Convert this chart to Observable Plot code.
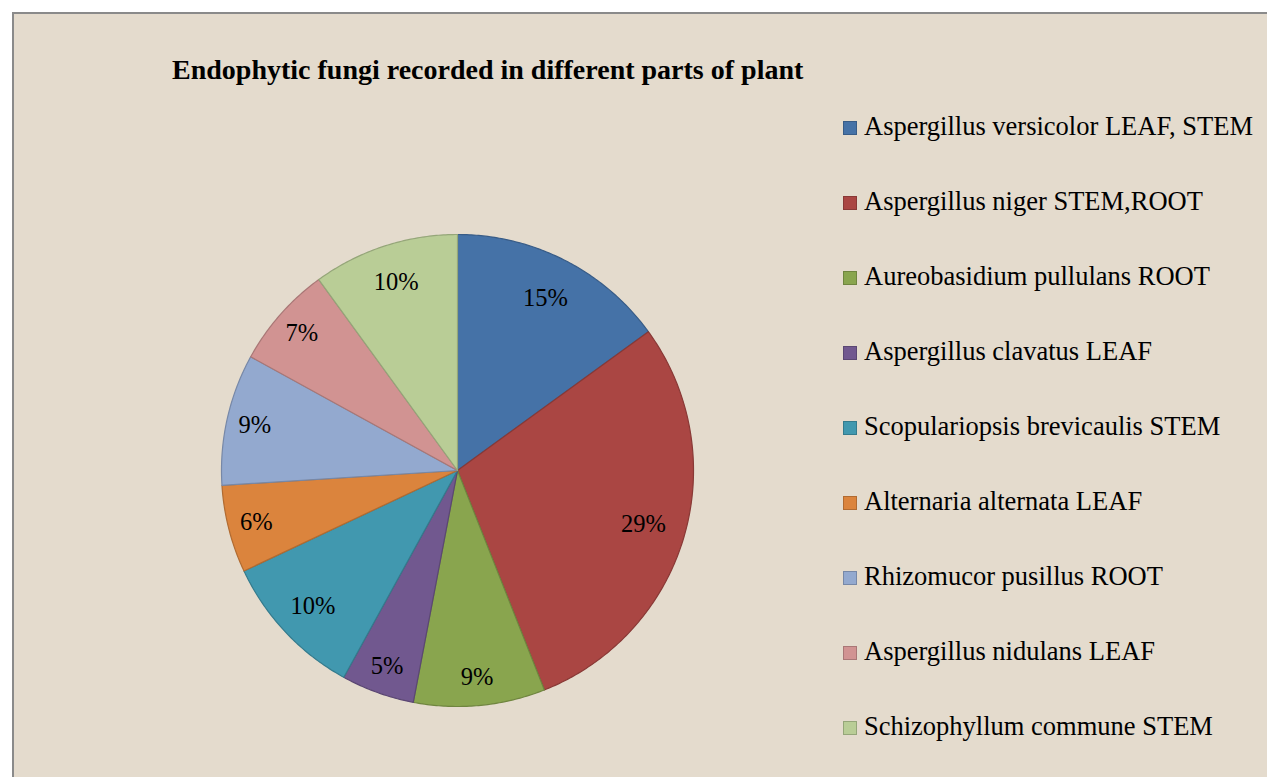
<!DOCTYPE html>
<html>
<head>
<meta charset="utf-8">
<script src="https://cdn.jsdelivr.net/npm/d3@7"></script>
<script src="https://cdn.jsdelivr.net/npm/@observablehq/plot@0.6"></script>
<style>
  html, body { margin: 0; padding: 0; background: #ffffff; overflow: hidden; }
  body { width: 1267px; height: 777px; position: relative; font-family: "Liberation Serif", "Times New Roman", serif; }
  #frame { position: absolute; left: 12px; top: 12px; width: 1300px; height: 800px; border: 2px solid #8a8a8a; background: #e4dbcd; }
  #title { position: absolute; left: 172px; top: 54px; font-weight: bold; font-size: 28px; color: #000; white-space: nowrap; line-height: 32px; }
  #chart { position: absolute; left: 217px; top: 230px; }
  .leg { position: absolute; left: 843px; height: 32px; line-height: 32px; font-size: 26.5px; color: #000; white-space: nowrap; }
  .sw { display: inline-block; width: 12px; height: 12px; border: 1px solid; margin-right: 7px; vertical-align: 0px; }
</style>
</head>
<body>
<div id="frame"></div>
<div id="title">Endophytic fungi recorded in different parts of plant</div>
<div id="chart"></div>
<div id="legend"></div>
<script>
const categories = [
  "Aspergillus versicolor LEAF, STEM",
  "Aspergillus niger STEM,ROOT",
  "Aureobasidium pullulans ROOT",
  "Aspergillus clavatus LEAF",
  "Scopulariopsis brevicaulis STEM",
  "Alternaria alternata LEAF",
  "Rhizomucor pusillus ROOT",
  "Aspergillus nidulans LEAF",
  "Schizophyllum commune STEM"
];
const values = [15, 29, 9, 5, 10, 6, 9, 7, 10];
const labels = ["15%", "29%", "9%", "5%", "10%", "6%", "9%", "7%", "10%"];
const colors = ["#4572a7", "#aa4643", "#89a54e", "#71588f", "#4198af", "#db843d", "#93a9cf", "#d19392", "#b9cd96"];

const R = 236;
const pie = d3.pie().sort(null).value(d => d)(values);

const marks = [];
pie.forEach((p, i) => {
  const steps = Math.max(2, Math.ceil((p.endAngle - p.startAngle) / 0.01));
  const pts = [{x: 0, y: 0}];
  for (let k = 0; k <= steps; k++) {
    const a = p.startAngle + (p.endAngle - p.startAngle) * k / steps;
    pts.push({x: Math.sin(a) * R, y: Math.cos(a) * R});
  }
  marks.push(Plot.line(pts, {
    x: "x", y: "y",
    curve: "linear-closed",
    fill: colors[i],
    stroke: d3.color(colors[i]).darker(0.6).formatHex(),
    strokeWidth: 1.2
  }));
});
// best-fit style placement: smaller slices pushed further out
const labelData = pie.map((p, i) => {
  const a = (p.startAngle + p.endAngle) / 2;
  const f = values[i] <= 9 ? 0.88 : values[i] <= 10 ? 0.84 : 0.82;
  return {x: Math.sin(a) * R * f, y: Math.cos(a) * R * f, t: labels[i]};
});
marks.push(Plot.text(labelData, {
  x: "x", y: "y", text: "t",
  fontSize: 24.5, fontFamily: "Liberation Serif", fill: "#000", textAnchor: "middle", lineAnchor: "middle"
}));

const plot = Plot.plot({
  width: 480, height: 480,
  margin: 0,
  x: {domain: [-240, 240], axis: null},
  y: {domain: [-240, 240], axis: null},
  style: {background: "transparent", overflow: "visible"},
  marks
});
document.getElementById("chart").appendChild(plot);

const legend = document.getElementById("legend");
categories.forEach((c, i) => {
  const div = document.createElement("div");
  div.className = "leg";
  div.style.top = (126 + 75 * i - 16) + "px";
  const sw = document.createElement("span");
  sw.className = "sw";
  sw.style.background = colors[i];
  sw.style.borderColor = d3.color(colors[i]).darker(0.6).formatHex();
  div.appendChild(sw);
  div.appendChild(document.createTextNode(c));
  legend.appendChild(div);
});
</script>
</body>
</html>
